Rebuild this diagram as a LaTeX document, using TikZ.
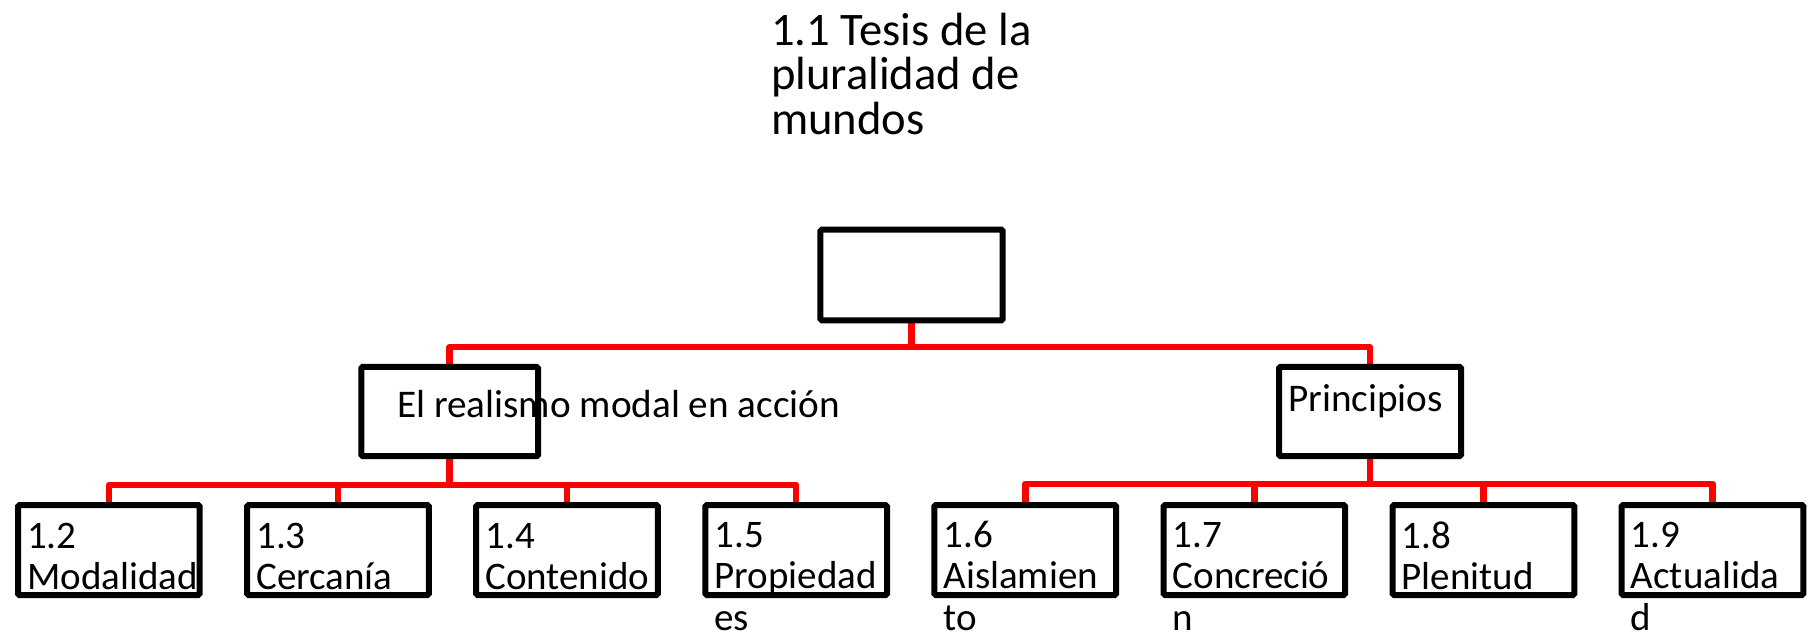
\documentclass[tikz,border=0pt]{standalone}
\usepackage{fontspec}
\setmainfont{Carlito}
\pgfdeclarelayer{background}
\pgfsetlayers{background,main}
\begin{document}
\begin{tikzpicture}[x=1pt,y=-1pt,
  box/.style={draw=black, line width=6pt, rounded corners=1.5pt, inner sep=0pt},
  topbox/.style={box, minimum width=182.4pt, minimum height=90.6pt},
  midbox/.style={box, minimum height=89.4pt},
  leafbox/.style={box, minimum width=181.7pt, minimum height=90pt},
  link/.style={draw=red, line width=6.5pt, line join=round},
  txt/.style={inner sep=0pt, anchor=base west, align=left},
  titletxt/.style={txt, font=\fontsize{46.6}{44.5}\selectfont},
  midtxt/.style={txt, font=\fontsize{39.2}{42}\selectfont},
  leaftxt/.style={txt, font=\fontsize{39}{41.5}\selectfont},
]
\useasboundingbox (0,0) rectangle (1807,635);

% boxes
\node[topbox] (top) at (911.5,275) {};
\node[midbox, minimum width=176.7pt] (ml) at (449.7,411.5) {};
\node[midbox, minimum width=182pt] (mr) at (1370,411.5) {};
\foreach \i/\nm in {0/b2,1/b3,2/b4,3/b5,4/b6,5/b7,6/b8,7/b9}{
  \node[leafbox] (\nm) at ({108.85+229.1*\i},550) {};
}

% connectors
\begin{pgfonlayer}{background}
\draw[link] (top.south) -- ++(0,23.7) coordinate (j1);
\draw[link] (ml.north) |- (j1) -| (mr.north);
\draw[link] (ml.south) -- ++(0,25.7) coordinate (j2);
\draw[link] (b2.north) |- (j2) -| (b5.north);
\draw[link] (b3.north) -- (b3.north |- j2);
\draw[link] (b4.north) -- (b4.north |- j2);
\draw[link] (mr.south) -- ++(0,24.7) coordinate (j3);
\draw[link] (b6.north) |- (j3) -| (b9.north);
\draw[link] (b7.north) -- (b7.north |- j3);
\draw[link] (b8.north) -- (b8.north |- j3);
\end{pgfonlayer}

% texts (anchor = baseline of the last line)
\node[titletxt] (t11) at (771,134) {1.1 Tesis de la\\pluralidad de\\mundos};
\node[midtxt] (tml) at (397,417.3) {El realismo modal en acción};
\node[midtxt] (tmr) at (1288,411.7) {Principios};
\node[leaftxt] (t2) at (27,589.5) {1.2\\Modalidad};
\node[leaftxt] (t3) at (256.1,589.5) {1.3\\Cercanía};
\node[leaftxt] (t4) at (485.2,589.5) {1.4\\Contenido};
\node[leaftxt] (t5) at (714.3,630) {1.5\\Propiedad\\es};
\node[leaftxt] (t6) at (943.4,630) {1.6\\Aislamien\\to};
\node[leaftxt] (t7) at (1172.5,630) {1.7\\Concreció\\n};
\node[leaftxt] (t8) at (1401.6,589.5) {1.8\\Plenitud};
\node[leaftxt] (t9) at (1630.7,630) {1.9\\Actualida\\d};
\end{tikzpicture}
\end{document}
